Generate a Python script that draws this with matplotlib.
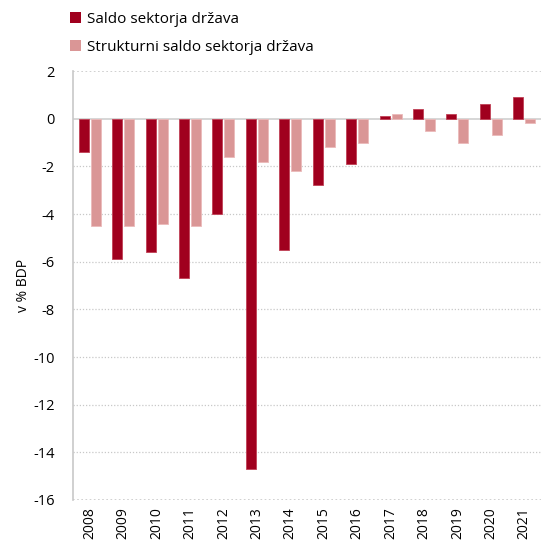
import numpy as np
import matplotlib.pyplot as plt
from matplotlib.patches import Patch

plt.rcParams['font.family'] = ['Open Sans', 'DejaVu Sans']
plt.rcParams['axes.unicode_minus'] = False

years = ['2008', '2009', '2010', '2011', '2012', '2013', '2014',
         '2015', '2016', '2017', '2018', '2019', '2020', '2021']
saldo = [-1.4, -5.9, -5.6, -6.7, -4.0, -14.7, -5.5,
         -2.8, -1.9, 0.1, 0.4, 0.2, 0.6, 0.9]
strukturni = [-4.5, -4.5, -4.4, -4.5, -1.6, -1.8, -2.2,
              -1.2, -1.0, 0.2, -0.5, -1.0, -0.7, -0.2]

DARK = '#A0001E'
LIGHT = '#DA9696'

fig = plt.figure(figsize=(5.41, 5.45), dpi=100)
ax = fig.add_axes([0.135, 0.0826, 0.865, 0.787])

x = np.arange(len(years))
w = 0.3
ax.bar(x - 0.18, saldo, w, color=DARK, edgecolor='#C04055', linewidth=0.6, zorder=3)
ax.bar(x + 0.18, strukturni, w, color=LIGHT, edgecolor='#EBBABA', linewidth=0.6, zorder=3)

ax.set_xlim(-0.5, len(years) - 0.5)
ax.set_ylim(-16, 2)
ax.set_yticks(np.arange(-16, 3, 2))
ax.set_xticks(x)
ax.set_xticklabels(years, rotation=90, fontsize=10)
ax.tick_params(axis='y', labelsize=10.5, length=0, pad=13)
ax.tick_params(axis='x', length=0, pad=5)

for v in np.arange(-16, 3, 2):
    if v == 0:
        ax.axhline(0, color='#CFCFCF', linewidth=1.2, zorder=2)
    else:
        ax.axhline(v, color='#C8C8C8', linewidth=1.2 if v in (2, -16) else 0.9,
                   linestyle=(0, (1, 1.5)), zorder=1)

for s in ['top', 'right', 'bottom']:
    ax.spines[s].set_visible(False)
ax.spines['left'].set_color('#C8C8C8')
ax.spines['left'].set_linewidth(1.2)

ax.set_ylabel('v % BDP', fontsize=10, labelpad=2)

handles = [Patch(facecolor=DARK, edgecolor='none', label='Saldo sektorja država'),
           Patch(facecolor=LIGHT, edgecolor='none', label='Strukturni saldo sektorja država')]
fig.legend(handles=handles, loc='upper left', bbox_to_anchor=(0.118, 0.99),
           frameon=False, fontsize=11, handlelength=0.75, handleheight=0.75,
           handletextpad=0.35, labelspacing=0.85, borderaxespad=0)

fig.savefig('out.png', dpi=100)
